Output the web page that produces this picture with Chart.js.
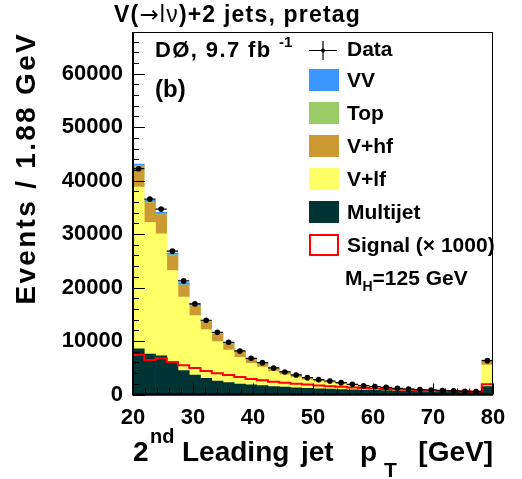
<!DOCTYPE html>
<html>
<head>
<meta charset="utf-8">
<script src="https://cdn.jsdelivr.net/npm/chart.js@4.4.1/dist/chart.umd.min.js"></script>
<style>
  body { margin: 0; background: #fff; }
  #c { display: block; }
</style>
</head>
<body>
<canvas id="c" width="522" height="479"></canvas>
<script>
// bin edges in GeV (32 bins of 1.875 GeV, last one is overflow)
var binEdges = [20, 21.875, 23.75, 25.625, 27.5, 29.375, 31.25, 33.125, 35, 36.875, 38.75,
  40.625, 42.5, 44.375, 46.25, 48.125, 50, 51.875, 53.75, 55.625, 57.5, 59.375, 61.25,
  63.125, 65, 66.875, 68.75, 70.625, 72.5, 74.375, 76.25, 78.125, 80];
var yTickValues = [0, 10000, 20000, 30000, 40000, 50000, 60000];
var xTickValues = [20, 30, 40, 50, 60, 70, 80];

// backgrounds, stacked from bottom to top
var multijet = [8520, 7580, 7210, 5840, 4460, 3650, 3030, 2530, 2215, 1970, 1800, 1650, 1500, 1380,
  1270, 1170, 1080, 1000, 930, 870, 820, 770, 720, 660, 610, 560, 520, 480, 450, 420, 390, 1460];
var vlf = [30280, 24590, 22850, 17350, 13740, 11110, 9110, 7370, 6115, 4990, 4040, 3500, 2800, 2280,
  1900, 1570, 1340, 1200, 1000, 790, 620, 540, 450, 350, 290, 230, 215, 145, 140, 95, 70, 4060];
var vhf = [3800, 3690, 3550, 2810, 2240, 1810, 1460, 1430, 1130, 940, 760, 650, 530, 440,
  380, 325, 285, 260, 225, 190, 165, 150, 135, 115, 100, 90, 85, 73, 70, 62, 55, 690];
var topq = [150, 130, 120, 100, 90, 80, 70, 60, 50, 45, 40, 35, 30, 28,
  25, 22, 20, 18, 16, 14, 12, 11, 10, 9, 8, 7, 6, 5, 5, 4, 4, 60];
var vv = [350, 310, 320, 340, 410, 300, 160, 190, 190, 145, 135, 125, 100, 86,
  75, 63, 55, 52, 45, 40, 33, 29, 25, 21, 22, 18, 17, 15, 15, 12, 11, 190];

// signal x 1000
var signal = [7400, 6460, 6775, 6090, 5460, 4960, 4400, 3960, 3650, 3250, 2900, 2650, 2400, 2200,
  2000, 1850, 1700, 1550, 1430, 1320, 1220, 1120, 1030, 950, 880, 810, 750, 700, 650, 600, 560, 1900];

var dataCounts = [42230, 36550, 34680, 26810, 21250, 16950, 13890, 11640, 9770, 8146, 6773, 5961,
  4963, 4214, 3652, 3152, 2777, 2528, 2216, 1904, 1650, 1500, 1340, 1155, 1030, 905, 843, 718,
  680, 593, 530, 6330];

var colMultijet = '#003333', colVlf = '#ffff66', colVhf = '#cc9933', colTop = '#99cc66', colVV = '#3c96ff';
var FONT = '"Liberation Sans", Arial, Helvetica, sans-serif';

function font(size, bold, fam) { return (bold ? 'bold ' : '') + size + 'px ' + (fam || FONT); }

var binCenters = binEdges.slice(0, -1).map(function(lo, i) { return (lo + binEdges[i + 1]) / 2; });

function bins(values) {
  return values.map(function(v, i) { return { x: binCenters[i], y: v }; });
}

// signal outline: one point per lower edge, plus the upper edge of the last bin
var signalSteps = signal.map(function(v, i) { return { x: binEdges[i], y: v }; });
signalSteps.push({ x: binEdges[binEdges.length - 1], y: signal[signal.length - 1] });

function setSpacing(ctx, s) {
  if ('letterSpacing' in ctx) ctx.letterSpacing = s + 'px';
}

function drawParts(ctx, x, y, parts) {
  parts.forEach(function(p) {
    ctx.font = p.f;
    ctx.fillText(p.t, x, y + (p.dy || 0));
    x += ctx.measureText(p.t).width + (p.gap || 0);
  });
}

var decor = {
  id: 'decor',
  afterDatasetsDraw: function(chart) {
    var ctx = chart.ctx, xs = chart.scales.x, ys = chart.scales.y;
    ctx.save();
    ctx.strokeStyle = '#000';
    ctx.lineWidth = 1.2;
    dataCounts.forEach(function(n, i) {
      var y = ys.getPixelForValue(n);
      var xc = xs.getPixelForValue(binCenters[i]);
      var e = Math.sqrt(n);
      ctx.beginPath();
      ctx.moveTo(xs.getPixelForValue(binEdges[i]), y);
      ctx.lineTo(xs.getPixelForValue(binEdges[i + 1]), y);
      ctx.moveTo(xc, ys.getPixelForValue(n - e));
      ctx.lineTo(xc, ys.getPixelForValue(n + e));
      ctx.stroke();
    });
    ctx.restore();
  },
  afterDraw: function(chart) {
    var ctx = chart.ctx, ca = chart.chartArea, xs = chart.scales.x, ys = chart.scales.y;
    var v, p, len;
    ctx.save();

    // frame
    ctx.strokeStyle = '#000';
    ctx.lineWidth = 1;
    ctx.strokeRect(ca.left + 0.5, ca.top + 0.5, ca.right - ca.left - 1, ca.bottom - ca.top);
    ctx.lineWidth = 2;
    ctx.beginPath();
    ctx.moveTo(ca.left, ca.top);
    ctx.lineTo(ca.left, ca.bottom);
    ctx.lineTo(ca.right, ca.bottom);
    ctx.stroke();

    // ticks inside the frame
    ctx.lineWidth = 1;
    ctx.beginPath();
    for (v = 0; v <= 66000; v += 2000) {
      p = Math.round(ys.getPixelForValue(v)) + 0.5;
      len = v % 10000 === 0 ? 12 : 6;
      ctx.moveTo(ca.left, p);
      ctx.lineTo(ca.left + len, p);
    }
    for (v = 20; v <= 80; v += 2) {
      p = Math.round(xs.getPixelForValue(v)) + 0.5;
      len = v % 10 === 0 ? 11 : 6;
      ctx.moveTo(p, ca.bottom);
      ctx.lineTo(p, ca.bottom - len);
    }
    ctx.stroke();

    ctx.fillStyle = '#000';
    ctx.textBaseline = 'alphabetic';
    ctx.textAlign = 'left';

    // top title
    setSpacing(ctx, 1.2);
    drawParts(ctx, 114, 22, [
      { t: 'V(', f: font(23, true) },
      { t: '\u2192', f: font(23, false, '"DejaVu Sans", sans-serif') },
      { t: 'l\u03bd', f: font(23, false) },
      { t: ')+2 jets, pretag', f: font(23, true) }
    ]);

    // y title
    ctx.save();
    ctx.translate(27, ca.top);
    ctx.rotate(-Math.PI / 2);
    ctx.textAlign = 'right';
    ctx.textBaseline = 'middle';
    ctx.font = font(28, true);
    setSpacing(ctx, 2.3);
    ctx.fillText('Events / 1.88 GeV', 0, 0);
    ctx.restore();
    setSpacing(ctx, 0);

    // x title
    ctx.font = font(28, true);
    ctx.fillText('2', ca.left, 461);
    ctx.font = font(20, true);
    ctx.fillText('nd', ca.left + 17, 443);
    ctx.font = font(28, true);
    ctx.fillText('Leading', ca.left + 49, 461);
    ctx.fillText('jet', ca.left + 168, 461);
    ctx.fillText('p', ca.left + 227, 461);
    ctx.font = font(21, true);
    ctx.fillText('T', ca.left + 251, 477);
    ctx.font = font(28, true);
    ctx.textAlign = 'right';
    ctx.fillText('[GeV]', ca.right, 461);
    ctx.textAlign = 'left';

    // experiment labels
    setSpacing(ctx, 1.4);
    ctx.font = font(22, true);
    ctx.fillText('D\u00d8, 9.7 fb', 155, 57);
    setSpacing(ctx, 0);
    ctx.font = font(15, true);
    ctx.fillText('-1', 279, 47);
    ctx.font = font(24, true);
    ctx.fillText('(b)', 155, 97);

    // legend
    var lx = 309, bw = 30, bh = 22, tx = 347;
    ctx.lineWidth = 1.2;
    ctx.beginPath();
    ctx.moveTo(lx, 50.5); ctx.lineTo(lx + 28, 50.5);
    ctx.moveTo(lx + 14, 41); ctx.lineTo(lx + 14, 60);
    ctx.stroke();
    ctx.beginPath();
    ctx.arc(lx + 14, 50.5, 2, 0, Math.PI * 2);
    ctx.fill();

    var entries = [
      { label: 'VV', color: colVV, y: 80 },
      { label: 'Top', color: colTop, y: 113 },
      { label: 'V+hf', color: colVhf, y: 146 },
      { label: 'V+lf', color: colVlf, y: 179 },
      { label: 'Multijet', color: colMultijet, y: 212 },
      { label: 'Signal (\u00d7 1000)', color: null, y: 245 }
    ];
    ctx.font = font(21, true);
    ctx.textBaseline = 'middle';
    ctx.fillText('Data', tx, 50);
    entries.forEach(function(e) {
      if (e.color) {
        ctx.fillStyle = e.color;
        ctx.fillRect(lx, e.y - bh / 2, bw, bh);
      } else {
        ctx.strokeStyle = '#ff0000';
        ctx.lineWidth = 2;
        ctx.strokeRect(lx + 1, e.y - bh / 2 + 1, bw - 2, bh - 2);
      }
      ctx.fillStyle = '#000';
      ctx.fillText(e.label, tx, e.y + 1);
    });

    ctx.textBaseline = 'alphabetic';
    drawParts(ctx, 345, 285, [
      { t: 'M', f: font(21, true) },
      { t: 'H', f: font(14, true), dy: 6 },
      { t: '=125 GeV', f: font(21, true) }
    ]);

    ctx.restore();
  }
};

var tickFont = { family: FONT, size: 22, weight: 'bold' };

function fixedTicks(values) {
  return function(scale) {
    scale.ticks = values.map(function(v) { return { value: v }; });
  };
}

new Chart(document.getElementById('c'), {
  type: 'bar',
  data: {
    datasets: [
      { type: 'line', label: 'Data', data: bins(dataCounts), showLine: false, pointRadius: 2.8,
        pointBackgroundColor: '#000', pointBorderWidth: 0, stack: 'data', order: 0 },
      { type: 'line', label: 'Signal', data: signalSteps, stepped: 'before', borderColor: '#ff0000',
        borderWidth: 2, pointRadius: 0, fill: false, stack: 'sig', order: 1 },
      { label: 'Multijet', data: bins(multijet), backgroundColor: colMultijet, stack: 'bg', order: 2 },
      { label: 'V+lf', data: bins(vlf), backgroundColor: colVlf, stack: 'bg', order: 2 },
      { label: 'V+hf', data: bins(vhf), backgroundColor: colVhf, stack: 'bg', order: 2 },
      { label: 'Top', data: bins(topq), backgroundColor: colTop, stack: 'bg', order: 2 },
      { label: 'VV', data: bins(vv), backgroundColor: colVV, stack: 'bg', order: 2 }
    ]
  },
  options: {
    responsive: false,
    animation: false,
    barPercentage: 1,
    categoryPercentage: 1,
    layout: { padding: { top: 32, right: 29, left: 0, bottom: 0 } },
    plugins: { legend: { display: false }, tooltip: { enabled: false } },
    scales: {
      x: {
        type: 'linear', min: 20, max: 80, offset: false,
        grid: { display: false, drawTicks: false, offset: false },
        border: { display: false },
        ticks: { padding: 10, color: '#000', font: tickFont, maxRotation: 0, autoSkip: false,
          callback: function(v) { return String(v); } },
        afterBuildTicks: fixedTicks(xTickValues),
        afterFit: function(s) { s.height = 84.5; }
      },
      y: {
        type: 'linear', min: 0, max: 67800,
        grid: { display: false, drawTicks: false },
        border: { display: false },
        ticks: { padding: 10, color: '#000', font: tickFont, autoSkip: false,
          callback: function(v) { return String(v); } },
        afterBuildTicks: fixedTicks(yTickValues),
        afterFit: function(s) { s.width = 133; }
      }
    }
  },
  plugins: [decor]
});
</script>
</body>
</html>
